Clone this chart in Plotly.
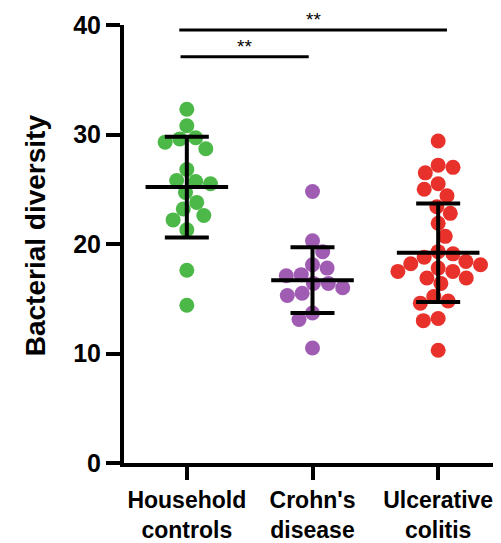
import math
import plotly.graph_objects as go

# ---------------- data ----------------
categories = ["Household<br>controls", "Crohn's<br>disease", "Ulcerative<br>colitis"]
household = [32.3, 30.8, 29.7, 29.6, 29.3, 28.7, 26.8, 25.7, 25.5, 25.8, 24.7, 23.8,
             23.2, 22.6, 22.2, 21.3, 17.6, 14.4]
crohns = [24.8, 20.3, 19.3, 18.1, 17.8, 17.2, 16.4, 16.0, 16.4, 17.1, 15.5, 15.3,
          13.7, 13.1, 10.5]
uc = [29.4, 27.0, 27.2, 26.5, 25.0, 25.5, 24.4, 23.4, 22.8, 21.9, 20.7, 19.3, 19.1,
      18.4, 18.2, 17.8, 17.5, 16.9, 16.9, 17.5, 18.1, 18.8, 16.4, 14.8, 14.6, 15.2,
      13.2, 13.0, 10.3]
means = [25.2, 16.7, 19.2]
sds = [4.6, 3.0, 4.5]
colors = ["#4cb848", "#a05cb3", "#e8312a"]
sig_pairs = [(0, 2, "**"), (0, 1, "**")]
sig_levels = [39.55, 37.1]
y_title = "Bacterial diversity"

# ---------------- layout constants ----------------
# the page body adds an 8px margin; the figure is sized to fill the rest
W, H = 493, 535
ML, MR, MT, MB = 116, 0, 17, 77
XR = [-0.5, 2.5]
YR = [0, 40]
px_x = (W - ML - MR) / (XR[1] - XR[0])
px_y = (H - MT - MB) / (YR[1] - YR[0])
D = 15.0  # swarm spacing in px


def swarm(vals):
    placed = []
    offs = [0.0] * len(vals)
    order = sorted(range(len(vals)), key=lambda i: -vals[i])
    for k, i in enumerate(order):
        y = vals[i] * px_y
        cands = [0.0]
        for xj, yj in placed:
            dy = abs(y - yj)
            if dy < D:
                dx = math.sqrt(D * D - dy * dy)
                cands += [xj + dx, xj - dx]
        valid = [c for c in cands
                 if all((c - xj) ** 2 + (y - yj) ** 2 >= D * D - 1e-6 for xj, yj in placed)]
        sgn = 1 if k % 2 == 0 else -1
        best = min(valid, key=lambda c: (round(abs(c), 4), -sgn * c))
        placed.append((best, y))
        offs[i] = best / px_x
    return offs


font = "Arial, Liberation Sans, sans-serif"
fig = go.Figure()
for gi, vals in enumerate([household, crohns, uc]):
    offs = swarm(vals)
    fig.add_trace(go.Scatter(
        x=[gi + o for o in offs], y=vals, mode="markers",
        marker=dict(size=15, color=colors[gi], line=dict(width=0)),
        showlegend=False, hoverinfo="y", cliponaxis=False))

fig.add_trace(go.Scatter(
    x=[0, 1, 2], y=means, mode="markers",
    marker=dict(symbol="line-ew", size=59, color="black",
                line=dict(width=4, color="black")),
    error_y=dict(type="data", array=sds, visible=True, color="black",
                 thickness=4, width=22),
    showlegend=False, cliponaxis=False))

for (a, b, txt), lvl in zip(sig_pairs, sig_levels):
    x0 = a - 0.06 if b == 2 else a - 0.05
    x1 = b + 0.07 if b == 2 else b - 0.03
    fig.add_shape(type="line", x0=x0, x1=x1, y0=lvl, y1=lvl, xref="x", yref="y",
                  line=dict(color="black", width=3))
    fig.add_annotation(x=(x0 + x1) / 2, y=lvl, text=txt, showarrow=False,
                       yanchor="bottom", yshift=-2,
                       font=dict(family=font, size=19, color="black"))

fig.add_annotation(text=y_title, textangle=-90, showarrow=False,
                   xref="paper", yref="paper", x=-0.236, y=0.52,
                   xanchor="center", yanchor="middle",
                   font=dict(family=font, size=28, color="black", weight="bold"))

fig.update_layout(
    width=W, height=H,
    margin=dict(l=ML, r=MR, t=MT, b=MB, pad=0),
    plot_bgcolor="white", paper_bgcolor="white",
    font=dict(family=font, color="black"),
    xaxis=dict(range=XR, tickvals=[0, 1, 2], ticktext=categories,
               showline=True, linewidth=4, linecolor="black",
               ticks="outside", ticklen=13, tickwidth=4, tickcolor="black",
               showgrid=False, zeroline=False,
               tickfont=dict(family=font, size=23, color="black", weight="bold")),
    yaxis=dict(range=YR, tickvals=[0, 10, 20, 30, 40],
               showline=True, linewidth=4, linecolor="black",
               ticks="outside", ticklen=14, tickwidth=4, tickcolor="black",
               showgrid=False, zeroline=False,
               tickfont=dict(family=font, size=25, color="black", weight="bold")),
)
fig.write_html("out.html")
